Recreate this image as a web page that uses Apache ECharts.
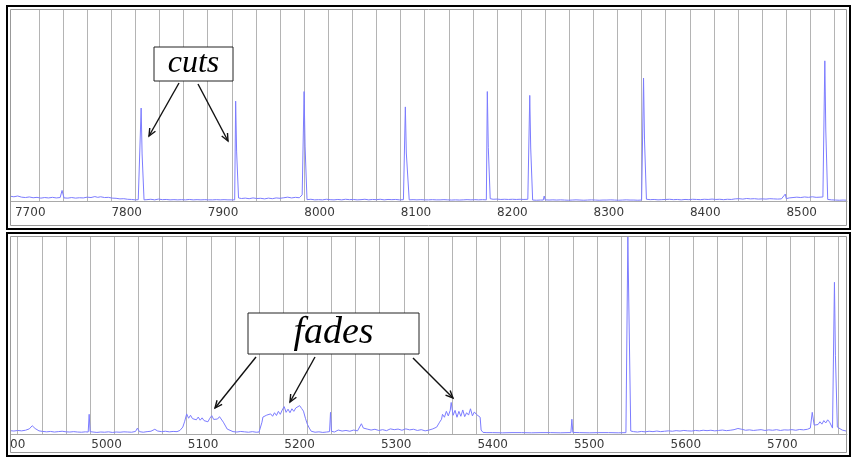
<!DOCTYPE html>
<html>
<head>
<meta charset="utf-8">
<script src="https://cdn.jsdelivr.net/npm/echarts@6/dist/echarts.min.js"></script>
<style>
  html, body { margin: 0; padding: 0; background: #fff; }
  #chart { width: 852px; height: 460px; }
</style>
</head>
<body>
<div id="chart"></div>
<script>
// top strip: frame numbers and difference values (cuts)
const topFrames = [
  7679, 7683, 7687, 7691, 7695, 7699, 7703, 7707, 7711, 7715, 7719, 7723, 7727, 7731, 7733, 7735,
  7739, 7743, 7747, 7751, 7755, 7759, 7763, 7767, 7770, 7773, 7777, 7781, 7785, 7789, 7793, 7797,
  7801, 7805, 7809, 7812, 7814, 7815, 7816, 7817, 7818, 7821, 7825, 7829, 7833, 7837, 7841, 7845,
  7849, 7853, 7857, 7861, 7865, 7869, 7873, 7877, 7881, 7885, 7889, 7893, 7897, 7901, 7905, 7909,
  7912, 7913, 7914, 7915, 7916, 7919, 7923, 7927, 7931, 7935, 7939, 7943, 7947, 7951, 7955, 7959,
  7963, 7967, 7971, 7975, 7979, 7982, 7984, 7985, 7986, 7987, 7991, 7995, 7999, 8003, 8007, 8011,
  8015, 8019, 8023, 8027, 8031, 8035, 8039, 8043, 8047, 8051, 8055, 8059, 8063, 8067, 8071, 8075,
  8079, 8083, 8087, 8088, 8089, 8090, 8091, 8092, 8093, 8097, 8101, 8105, 8109, 8113, 8117, 8121,
  8125, 8129, 8133, 8137, 8141, 8145, 8149, 8153, 8157, 8161, 8165, 8169, 8173, 8174, 8175, 8176,
  8177, 8180, 8184, 8188, 8192, 8196, 8200, 8204, 8208, 8212, 8216, 8217, 8218, 8219, 8220, 8221,
  8225, 8229, 8232, 8233, 8234, 8238, 8242, 8246, 8250, 8254, 8258, 8262, 8266, 8270, 8274, 8278,
  8282, 8286, 8290, 8294, 8298, 8302, 8306, 8310, 8314, 8318, 8322, 8326, 8330, 8334, 8335, 8336,
  8337, 8338, 8339, 8343, 8347, 8351, 8355, 8359, 8363, 8367, 8371, 8375, 8379, 8383, 8387, 8391,
  8395, 8399, 8403, 8407, 8411, 8415, 8419, 8423, 8427, 8431, 8435, 8439, 8443, 8447, 8451, 8455,
  8459, 8463, 8467, 8471, 8475, 8479, 8481, 8483, 8484, 8487, 8491, 8495, 8499, 8503, 8507, 8511,
  8515, 8519, 8522, 8523, 8524, 8525, 8526, 8527, 8531, 8535, 8539, 8543, 8547
];
const topValues = [
  2.5, 2.2, 2.6, 2.0, 1.8, 2.1, 1.7, 1.9, 1.5, 1.8, 1.6, 1.9, 1.6, 1.8, 5.5, 1.6,
  1.5, 1.8, 1.5, 1.7, 1.6, 2.0, 1.8, 2.3, 1.9, 2.2, 1.8, 1.9, 1.5, 1.4, 1.1, 1.2,
  0.9, 0.8, 0.6, 0.7, 0.6, 48.4, 24.5, 24.5, 0.6, 0.7, 0.9, 0.6, 1.0, 0.7, 0.8, 0.6,
  0.7, 0.6, 0.7, 0.6, 0.8, 0.6, 0.7, 0.6, 0.7, 0.6, 0.6, 0.7, 0.6, 0.7, 0.6, 0.6,
  0.6, 52, 26, 26, 1.6, 1.3, 1.5, 1.2, 1.6, 1.3, 1.4, 1.1, 1.5, 1.2, 1.6, 1.4,
  1.7, 2.0, 1.6, 1.9, 1.7, 3.2, 57, 28.6, 28.6, 0.7, 0.9, 0.6, 0.7, 0.6, 0.9, 0.7,
  0.6, 0.8, 0.6, 0.9, 0.7, 0.8, 0.6, 0.7, 0.9, 0.6, 0.8, 0.7, 0.9, 0.6, 0.8, 0.7,
  0.8, 0.6, 0.7, 0.6, 49, 25, 25, 25, 0.6, 0.7, 0.6, 0.7, 0.6, 0.6, 0.7, 0.6,
  0.6, 0.7, 0.6, 0.5, 0.6, 0.5, 0.6, 0.7, 0.6, 0.7, 0.6, 0.7, 0.6, 57, 28, 28,
  1.2, 0.9, 1.0, 0.8, 0.9, 0.8, 0.9, 0.8, 0.9, 0.8, 0.9, 0.7, 55, 27.6, 27.6, 0.5,
  0.4, 0.5, 0.5, 2.6, 0.6, 0.5, 0.6, 0.5, 0.6, 0.5, 0.4, 0.5, 0.6, 0.5, 0.4, 0.5,
  0.6, 0.5, 0.4, 0.5, 0.5, 0.6, 0.5, 0.4, 0.5, 0.6, 0.5, 0.5, 0.4, 0.5, 0.5, 64,
  31.8, 31.8, 0.9, 0.7, 0.8, 0.6, 0.7, 0.8, 0.9, 0.7, 0.8, 0.6, 0.8, 0.7, 0.9, 0.8,
  0.7, 0.9, 0.8, 1.0, 0.8, 0.9, 0.7, 0.9, 0.8, 1.1, 1.2, 1.0, 1.3, 1.1, 1.2, 1.0,
  1.1, 1.0, 1.2, 1.1, 1.0, 1.1, 1.3, 3.6, 1.2, 1.6, 1.8, 2.0, 1.8, 2.1, 1.9, 2.2,
  1.9, 2.0, 2.1, 1.9, 73, 37, 37, 0.8, 0.6, 0.5, 0.4, 0.5, 0.4
];

// bottom strip: frame numbers and difference values (fades)
const bottomFrames = [
  4900, 4904, 4908, 4912, 4916, 4920, 4923, 4926, 4930, 4934, 4938, 4942, 4946, 4950, 4954, 4958,
  4962, 4966, 4970, 4974, 4978, 4981, 4982, 4983, 4986, 4990, 4994, 4998, 5002, 5006, 5010, 5014,
  5018, 5022, 5026, 5030, 5032, 5034, 5038, 5042, 5046, 5050, 5053, 5057, 5061, 5065, 5069, 5073,
  5076, 5079, 5081, 5083, 5085, 5087, 5089, 5091, 5093, 5095, 5097, 5099, 5101, 5103, 5105, 5107,
  5109, 5111, 5113, 5115, 5117, 5119, 5121, 5123, 5125, 5127, 5131, 5135, 5139, 5143, 5147, 5151,
  5155, 5158, 5161, 5162, 5164, 5166, 5168, 5170, 5172, 5174, 5176, 5178, 5180, 5182, 5184, 5186,
  5188, 5190, 5192, 5194, 5196, 5198, 5200, 5202, 5204, 5206, 5208, 5210, 5212, 5216, 5220, 5224,
  5228, 5231, 5232, 5233, 5236, 5240, 5244, 5248, 5252, 5256, 5260, 5264, 5266, 5270, 5274, 5278,
  5282, 5286, 5290, 5294, 5298, 5302, 5306, 5310, 5314, 5318, 5322, 5326, 5330, 5334, 5338, 5342,
  5345, 5347, 5348, 5350, 5352, 5354, 5356, 5357, 5359, 5361, 5363, 5365, 5367, 5369, 5371, 5373,
  5375, 5377, 5379, 5381, 5383, 5385, 5387, 5388, 5390, 5394, 5400, 5410, 5420, 5430, 5440, 5450,
  5460, 5470, 5478, 5481, 5482, 5483, 5490, 5500, 5510, 5520, 5530, 5538, 5539, 5540, 5541, 5542,
  5543, 5546, 5550, 5554, 5558, 5562, 5566, 5570, 5574, 5578, 5582, 5586, 5590, 5594, 5598, 5602,
  5606, 5610, 5614, 5618, 5622, 5626, 5630, 5634, 5638, 5642, 5646, 5650, 5654, 5656, 5658, 5662,
  5666, 5670, 5674, 5678, 5682, 5686, 5690, 5694, 5698, 5702, 5706, 5710, 5714, 5718, 5722, 5726,
  5729, 5731, 5733, 5735, 5737, 5739, 5741, 5743, 5745, 5747, 5749, 5751, 5752, 5753, 5754, 5755,
  5756, 5757, 5759, 5762, 5767
];
const bottomValues = [
  1.7, 1.5, 1.8, 1.6, 1.9, 2.6, 4.2, 2.8, 1.6, 1.3, 1.1, 1.3, 1.0, 1.2, 1.4, 1.1,
  1.0, 1.2, 1.0, 0.9, 1.1, 1.0, 10, 1.2, 1.0, 0.8, 1.0, 0.9, 1.1, 0.8, 1.0, 0.9,
  1.1, 1.0, 0.9, 1.3, 3.0, 1.2, 0.9, 1.2, 1.4, 2.4, 1.5, 1.2, 1.4, 1.1, 1.3, 1.2,
  1.8, 3.5, 6.5, 10.2, 8.0, 9.5, 7.8, 8.8, 7.2, 8.6, 7.0, 8.2, 6.8, 7.5, 6.2, 8.0,
  9.3, 7.4, 8.3, 7.6, 8.8, 7.8, 6.0, 5.8, 2.5, 1.7, 1.2, 1.0, 1.3, 1.1, 0.9, 1.2,
  0.9, 1.0, 6.0, 8.6, 8.0, 9.6, 8.6, 10.2, 9.0, 10.8, 9.4, 11.5, 10.0, 12.2, 13.9, 11.0,
  12.6, 10.8, 12.8, 11.5, 13.2, 12.4, 14.4, 13.0, 11.6, 8.0, 5.0, 3.0, 1.4, 0.9, 1.1, 0.8,
  1.0, 1.2, 11, 1.4, 1.0, 2.0, 1.5, 1.8, 1.4, 2.0, 1.6, 5.2, 3.0, 2.5, 2.0, 2.4,
  1.8, 2.2, 1.7, 2.6, 2.2, 2.5, 1.9, 2.6, 2.1, 2.4, 1.8, 2.2, 1.6, 2.0, 2.6, 3.5,
  6.0, 7.5, 10.0, 8.5, 11.5, 9.2, 12.0, 16.0, 9.5, 12.0, 8.5, 11.5, 9.0, 12.2, 8.8, 10.8,
  9.6, 12.8, 9.2, 11.2, 10.0, 11.0, 8.5, 2.0, 0.8, 0.7, 0.7, 0.6, 0.7, 0.7, 0.6, 0.7,
  0.7, 0.6, 0.7, 0.7, 7.5, 0.8, 0.7, 0.6, 0.7, 0.7, 0.6, 0.7, 0.8, 100, 66, 66,
  1.5, 1.2, 1.0, 1.3, 1.1, 1.4, 1.2, 1.5, 1.2, 1.4, 1.6, 1.4, 1.7, 1.5, 1.8, 1.6,
  1.5, 1.8, 1.6, 1.9, 1.7, 1.9, 1.6, 1.8, 2.0, 1.7, 1.9, 2.2, 2.8, 3.3, 2.4, 1.9,
  2.1, 1.8, 2.0, 2.2, 1.8, 2.1, 1.9, 2.2, 1.8, 2.1, 2.0, 2.2, 1.9, 2.3, 2.1, 2.4,
  3.0, 11, 4.5, 5.5, 4.8, 6.2, 5.0, 6.8, 5.6, 7.2, 6.0, 5.5, 3.0, 2.0, 77, 40,
  40, 3.5, 2.6, 2.0, 1.4
];

const topTicks = [7700, 7800, 7900, 8000, 8100, 8200, 8300, 8400, 8500];
// 4900 sits on the left edge, only its "00" shows
const bottomTicks = [4900, 5000, 5100, 5200, 5300, 5400, 5500, 5600, 5700];

// one grey line every 25 frames
function frameMarks(start, end) {
  const out = [];
  for (let f = start; f <= end; f += 25) out.push(f);
  return out;
}
const topMarks = frameMarks(7709, 8547);
const bottomMarks = frameMarks(4908, 5767);

const lineColor = '#7c7cff';

function xAxisFor(gridIndex, min, max, labels, marks, margin) {
  return {
    type: 'value',
    gridIndex,
    min,
    max,
    axisLine: { show: true, onZero: false, lineStyle: { color: '#a9a9a9', width: 1 } },
    axisTick: { show: false, customValues: marks },
    axisLabel: {
      customValues: labels,
      margin,
      color: '#3a3a3a',
      fontFamily: 'DejaVu Sans',
      fontSize: 12,
      showMinLabel: true,
      hideOverlap: false,
      formatter: (v) => String(v),
    },
    splitLine: { show: true, lineStyle: { color: '#b4b4b4', width: 1 } },
  };
}

function yAxisFor(gridIndex) {
  return {
    type: 'value',
    gridIndex,
    min: 0,
    max: 100,
    show: false,
  };
}

function arrow(x1, y1, x2, y2) {
  const a = Math.atan2(y2 - y1, x2 - x1);
  const L = 8;
  const s = 0.42;
  const style = { stroke: '#111', lineWidth: 1.4, fill: 'none' };
  return [
    { type: 'line', z: 100, shape: { x1, y1, x2, y2 }, style },
    {
      type: 'polyline',
      z: 100,
      shape: {
        points: [
          [x2 - L * Math.cos(a - s), y2 - L * Math.sin(a - s)],
          [x2, y2],
          [x2 - L * Math.cos(a + s), y2 - L * Math.sin(a + s)],
        ],
      },
      style,
    },
  ];
}

function label(text, x, y, w, h, size) {
  return [
    { type: 'rect', z: 100, shape: { x, y, width: w, height: h }, style: { fill: '#fff', stroke: '#222', lineWidth: 1 } },
    {
      type: 'text',
      z: 101,
      x: x + w / 2,
      y: y + h / 2,
      style: {
        text,
        font: 'italic ' + size + 'px "Liberation Serif"',
        fill: '#000',
        align: 'center',
        verticalAlign: 'middle',
      },
    },
  ];
}

const frames = [
  // hide what falls left of the panels
  { type: 'rect', z: 89, shape: { x: 0, y: 0, width: 10, height: 460 }, style: { fill: '#fff' } },
  { type: 'rect', z: 90, shape: { x: 7, y: 6, width: 843, height: 223 }, style: { fill: 'none', stroke: '#000', lineWidth: 2 } },
  { type: 'rect', z: 90, shape: { x: 10.5, y: 9.5, width: 836, height: 216 }, style: { fill: 'none', stroke: '#999', lineWidth: 1 } },
  { type: 'rect', z: 90, shape: { x: 7, y: 233, width: 843, height: 223 }, style: { fill: 'none', stroke: '#000', lineWidth: 2 } },
  { type: 'rect', z: 90, shape: { x: 10.5, y: 236.5, width: 836, height: 216 }, style: { fill: 'none', stroke: '#999', lineWidth: 1 } },
];

const chart = echarts.init(document.getElementById('chart'));
chart.setOption({
  animation: false,
  backgroundColor: '#fff',
  grid: [
    { left: 10, right: 5, top: 9, height: 192, outerBoundsMode: 'none', containLabel: false },
    { left: 10, right: 5, top: 237, height: 197, outerBoundsMode: 'none', containLabel: false },
  ],
  xAxis: [
    xAxisFor(0, 7679, 8547, topTicks, topMarks, 6),
    xAxisFor(1, 4900, 5767, bottomTicks, bottomMarks, 5),
  ],
  yAxis: [yAxisFor(0), yAxisFor(1)],
  series: [
    {
      type: 'line',
      xAxisIndex: 0,
      yAxisIndex: 0,
      showSymbol: false,
      lineStyle: { color: lineColor, width: 1 },
      data: topFrames.map((f, i) => [f, topValues[i]]),
    },
    {
      type: 'line',
      xAxisIndex: 1,
      yAxisIndex: 1,
      showSymbol: false,
      lineStyle: { color: lineColor, width: 1 },
      data: bottomFrames.map((f, i) => [f, bottomValues[i]]),
    },
  ],
  graphic: [
    ...frames,
    ...label('cuts', 154, 47, 79, 34, 32),
    ...arrow(179, 83, 149, 136),
    ...arrow(198, 84, 228, 141),
    ...label('fades', 248, 313, 171, 41, 38),
    ...arrow(256, 357, 215, 408),
    ...arrow(315, 357, 290, 402),
    ...arrow(413, 358, 453, 398),
  ],
});
</script>
</body>
</html>
